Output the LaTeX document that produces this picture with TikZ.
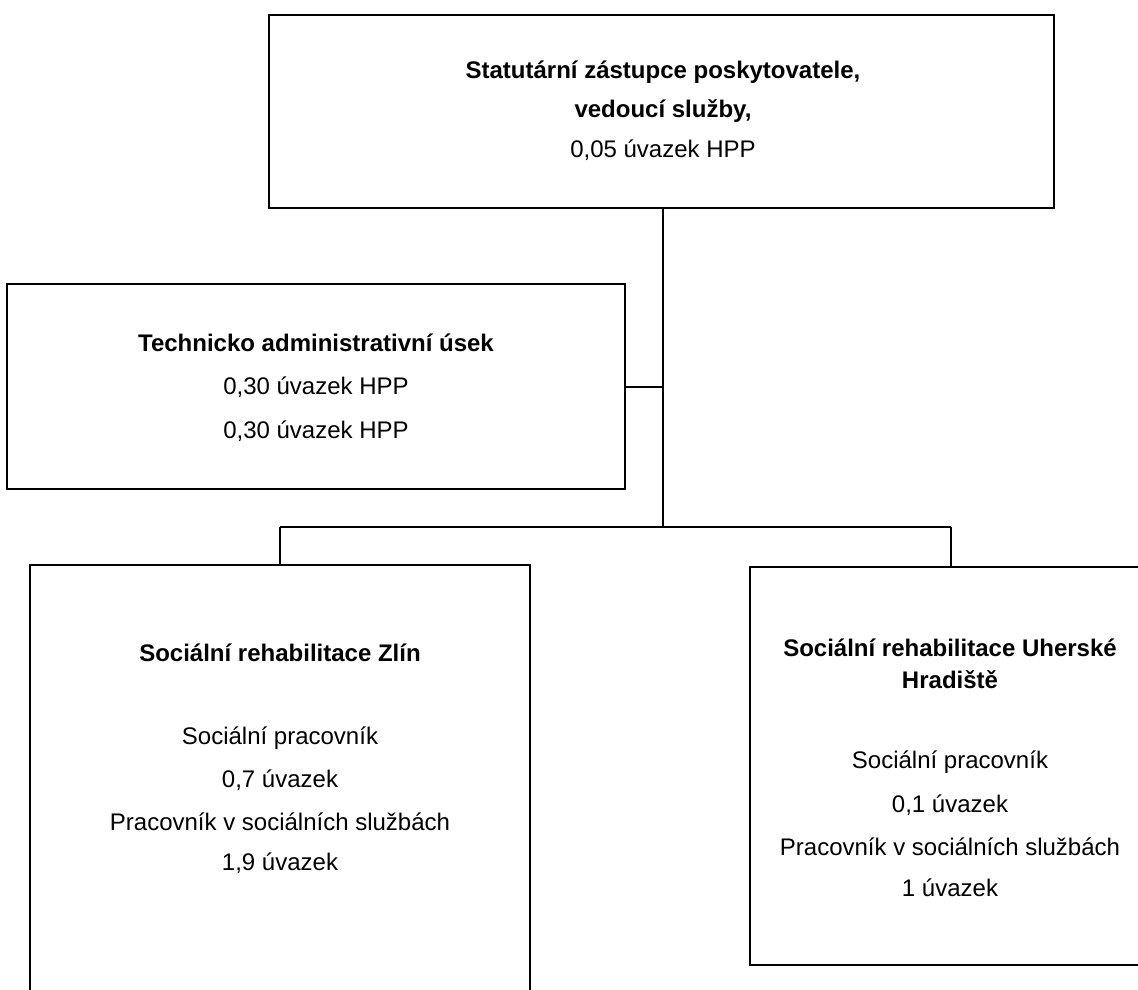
\documentclass[tikz,border=0pt]{standalone}
\usepackage{fontspec}
\setmainfont{Liberation Sans}
\begin{document}
\begin{tikzpicture}[x=1pt,y=-1pt,
  box/.style={draw=black,line width=2.5pt,fill=none},
  conn/.style={draw=black,line width=2.5pt},
  txt/.style={inner sep=0pt,anchor=center,font=\fontsize{24}{29}\selectfont},
  btxt/.style={txt,font=\fontsize{24}{29}\selectfont\bfseries}]
\useasboundingbox (0,0) rectangle (1138,990);
% boxes
\draw[box] (269,15) rectangle (1054,208);
\coordinate (topB) at (663,208);
\draw[box] (7,284) rectangle (625,489);
\coordinate (techR) at (625,387);
\draw[box] (30,995) -- (30,565) -- (530,565) -- (530,995);
\coordinate (zlinT) at (280,565);
\draw[box] (1145,965) -- (750,965) -- (750,567) -- (1145,567);
\coordinate (uhT) at (951,567);
% connector points
\coordinate (j1) at (663,387);
\coordinate (j2) at (663,527);
\coordinate (bl) at (280,527);
\coordinate (br) at (951,527);
\draw[conn] (topB) -- (j2);
\draw[conn] (techR) -- (j1);
\draw[conn] (bl) -- (br);
\draw[conn] (bl) -- (zlinT);
\draw[conn] (br) -- (uhT);
% texts
\node[btxt] (t1) at (663,72) {Statutární zástupce poskytovatele,};
\node[btxt] (t2) at (663,111) {vedoucí služby,};
\node[txt] (t3) at (663,150) {0,05 úvazek HPP};
\node[btxt] (a1) at (316,343) {Technicko administrativní úsek};
\node[txt] (a2) at (316,387) {0,30 úvazek HPP};
\node[txt] (a3) at (316,431) {0,30 úvazek HPP};
\node[btxt] (z1) at (280,653) {Sociální rehabilitace Zlín};
\node[txt] (z2) at (280,738) {Sociální pracovník};
\node[txt] (z3) at (280,780) {0,7 úvazek};
\node[txt] (z4) at (280,822) {Pracovník v sociálních službách};
\node[txt] (z5) at (280,863) {1,9 úvazek};
\node[btxt] (u1) at (950,648) {Sociální rehabilitace Uherské};
\node[btxt] (u2) at (950,680) {Hradiště};
\node[txt] (u3) at (950,762) {Sociální pracovník};
\node[txt] (u4) at (950,805) {0,1 úvazek};
\node[txt] (u5) at (950,847) {Pracovník v sociálních službách};
\node[txt] (u6) at (950,888) {1 úvazek};
\end{tikzpicture}
\end{document}
